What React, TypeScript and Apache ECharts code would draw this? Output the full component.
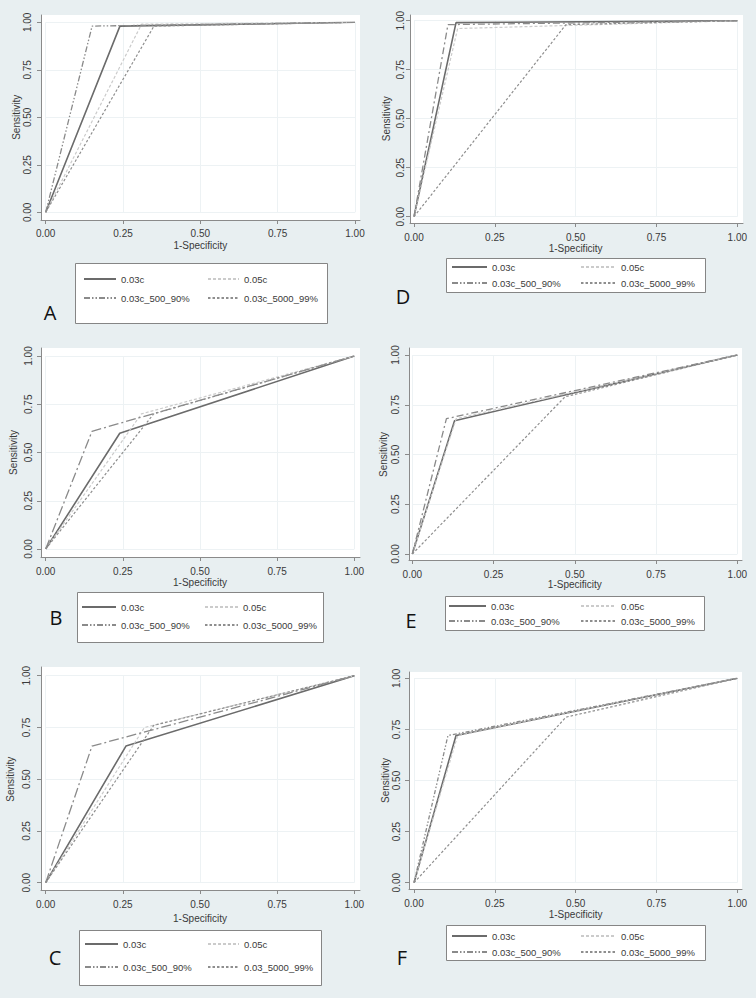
import React, { useEffect, useRef } from "react";
import * as echarts from "echarts";

// ---- data ----
const panelLetters = ["A", "D", "B", "E", "C", "F"];
const namesA = ["0.03c", "0.05c", "0.03c_500_90%", "0.03c_5000_99%"];
const namesB = ["0.03c", "0.05c", "0.03c_500_90%", "0.03c_5000_99%"];
const namesC = ["0.03c", "0.05c", "0.03c_500_90%", "0.03_5000_99%"];
const namesD = ["0.03c", "0.05c", "0.03c_500_90%", "0.03c_5000_99%"];
const namesE = ["0.03c", "0.05c", "0.03c_500_90%", "0.03c_5000_99%"];
const namesF = ["0.03c", "0.05c", "0.03c_500_90%", "0.03c_5000_99%"];

// knee point (1-specificity, sensitivity) of each curve: 0.03c, 0.05c, 500_90%, 5000_99%
const fprA = [0.24, 0.31, 0.15, 0.35];
const sensA = [0.98, 0.99, 0.98, 0.98];
const fprB = [0.24, 0.31, 0.15, 0.35];
const sensB = [0.6, 0.7, 0.61, 0.7];
const fprC = [0.26, 0.32, 0.15, 0.35];
const sensC = [0.66, 0.75, 0.66, 0.76];
const fprD = [0.13, 0.135, 0.105, 0.47];
const sensD = [0.99, 0.96, 0.98, 0.98];
const fprE = [0.13, 0.135, 0.105, 0.47];
const sensE = [0.67, 0.68, 0.68, 0.79];
const fprF = [0.13, 0.135, 0.105, 0.47];
const sensF = [0.72, 0.72, 0.72, 0.81];

const xAxisTitle = "1-Specificity";
const yAxisTitle = "Sensitivity";

// ---- layout / style ----
type Lay = {
  L: number; T: number; R: number; B: number;
  x0: number; x1: number; y1: number; y0: number;
  xNameGap: number; xLabMargin: number; yLabMargin: number; yNameGap: number;
  leg: [number, number, number, number]; rows: [number, number];
  lx: [number, number]; rx: [number, number]; letter: [number, number];
  dash2: number[];
};

const layouts: Lay[] = [
  { L: 41, T: 15, R: 360, B: 220, x0: 45.7, x1: 355, y1: 22.3, y0: 212.3, xNameGap: 20, xLabMargin: 8, yLabMargin: 9, yNameGap: 18,
    leg: [75, 263, 327, 323], rows: [279, 298], lx: [83, 115], rx: [207, 238], letter: [50, 312], dash2: [6, 2, 1.5, 2, 1.5, 2] },
  { L: 410, T: 15, R: 743, B: 223, x0: 414, x1: 737.3, y1: 20.7, y0: 216.7, xNameGap: 20, xLabMargin: 9, yLabMargin: 5, yNameGap: 19,
    leg: [446, 258, 705, 292], rows: [267, 283], lx: [451, 486], rx: [580, 615], letter: [403, 296], dash2: [7, 3, 2, 3] },
  { L: 41, T: 348, R: 360, B: 557, x0: 45.7, x1: 354.3, y1: 356, y0: 549, xNameGap: 20, xLabMargin: 9, yLabMargin: 8, yNameGap: 23,
    leg: [77, 592, 323, 642], rows: [607, 625], lx: [81, 115], rx: [204, 237], letter: [56, 617], dash2: [10, 3, 2, 3] },
  { L: 409, T: 348, R: 742, B: 560, x0: 412.3, x1: 737.3, y1: 355, y0: 554, xNameGap: 19, xLabMargin: 9, yLabMargin: 9, yNameGap: 21,
    leg: [445, 596, 704, 630], rows: [606, 621], lx: [448, 485], rx: [580, 615], letter: [411, 620], dash2: [7, 3, 2, 3] },
  { L: 41, T: 667, R: 360, B: 890, x0: 45.7, x1: 354.3, y1: 675.7, y0: 882.7, xNameGap: 23, xLabMargin: 9, yLabMargin: 10, yNameGap: 26,
    leg: [79, 930, 321, 985], rows: [944, 967], lx: [84, 117], rx: [207, 238], letter: [55, 957], dash2: [10, 3, 2, 3] },
  { L: 409, T: 672, R: 742, B: 889, x0: 414, x1: 737.3, y1: 678.3, y0: 882.7, xNameGap: 20, xLabMargin: 9, yLabMargin: 8, yNameGap: 18,
    leg: [446, 925, 705, 960], rows: [936, 952], lx: [451, 486], rx: [580, 615], letter: [402, 957], dash2: [4, 2, 1.5, 2, 1.5, 2] },
];

const panelNames = [namesA, namesD, namesB, namesE, namesC, namesF];
const panelFpr = [fprA, fprD, fprB, fprE, fprC, fprF];
const panelSens = [sensA, sensD, sensB, sensE, sensC, sensF];

const FONT = "'Liberation Sans', Arial, sans-serif";
const TXT = "#3a3a3a";
const AXIS = "#8a8a8a";
const GRIDLINE = "#edf2f4";
const BG = "#e8eff1";
const FS = 10;

function buildOption() {
  const grid: any[] = [];
  const xAxis: any[] = [];
  const yAxis: any[] = [];
  const series: any[] = [];
  const legend: any[] = [];
  const graphic: any[] = [];

  layouts.forEach((p, i) => {
    const names = panelNames[i];
    const fpr = panelFpr[i];
    const sens = panelSens[i];
    const gFull = 2 * i;
    const gData = 2 * i + 1;
    const xw = p.x1 - p.x0;
    const yh = p.y0 - p.y1;

    grid.push({ left: p.L, top: p.T, width: p.R - p.L, height: p.B - p.T, show: true, backgroundColor: "#ffffff", borderWidth: 0, containLabel: false });
    grid.push({ left: p.x0, top: p.y1, width: xw, height: yh, show: false, containLabel: false });

    // frame axes (axis lines spanning full plot region)
    xAxis.push({
      type: "value", gridIndex: gFull, position: "bottom",
      min: -(p.x0 - p.L) / xw, max: 1 + (p.R - p.x1) / xw,
      axisLine: { show: true, onZero: false, lineStyle: { color: AXIS, width: 1 } },
      axisTick: { show: false }, axisLabel: { show: false }, splitLine: { show: false },
    });
    yAxis.push({
      type: "value", gridIndex: gFull, position: "left",
      min: -(p.B - p.y0) / yh, max: 1 + (p.y1 - p.T) / yh,
      axisLine: { show: true, onZero: false, lineStyle: { color: AXIS, width: 1 } },
      axisTick: { show: false }, axisLabel: { show: false }, splitLine: { show: false },
    });
    // data axes (ticks, labels, gridlines)
    xAxis.push({
      type: "value", gridIndex: gData, position: "bottom", min: 0, max: 1, interval: 0.25,
      offset: p.B - p.y0,
      axisLine: { show: false, onZero: false },
      axisTick: { show: true, length: 4, lineStyle: { color: AXIS } },
      axisLabel: { show: true, margin: p.xLabMargin, fontSize: FS, color: TXT, fontFamily: FONT,
        formatter: (v: number) => v.toFixed(2) },
      splitLine: { show: true, lineStyle: { color: GRIDLINE, width: 1 } },
      name: xAxisTitle, nameLocation: "middle", nameGap: p.xNameGap,
      nameTextStyle: { fontSize: FS, color: TXT, fontFamily: FONT, verticalAlign: "top" },
    });
    yAxis.push({
      type: "value", gridIndex: gData, position: "left", min: 0, max: 1, interval: 0.25,
      offset: p.x0 - p.L,
      axisLine: { show: false, onZero: false },
      axisTick: { show: true, length: 4, lineStyle: { color: AXIS } },
      axisLabel: { show: true, margin: p.yLabMargin, rotate: 90, fontSize: FS, color: TXT, fontFamily: FONT,
        formatter: (v: number) => v.toFixed(2) },
      splitLine: { show: true, lineStyle: { color: GRIDLINE, width: 1 } },
      name: yAxisTitle, nameLocation: "middle", nameGap: p.yNameGap, nameRotate: 90,
      nameTextStyle: { fontSize: FS, color: TXT, fontFamily: FONT },
    });

    const styles = [
      { color: "#6b6b6b", width: 1.6, type: "solid" },
      { color: "#cbcbcb", width: 1.2, type: [3, 2] },
      { color: "#8a8a8a", width: 1.3, type: p.dash2 },
      { color: "#8e8e8e", width: 1.2, type: [2.5, 2] },
    ];
    const drawOrder = [1, 3, 2, 0];
    drawOrder.forEach((k) => {
      series.push({
        type: "line",
        name: names[k],
        xAxisIndex: gData,
        yAxisIndex: gData,
        data: [[0, 0], [fpr[k], sens[k]], [1, 1]],
        symbol: "none",
        silent: true,
        lineStyle: { color: styles[k].color, width: styles[k].width, type: styles[k].type },
        itemStyle: { color: styles[k].color },
        z: 3 + k,
      });
    });

    const ih = 10;
    const gap = p.rows[1] - p.rows[0] - ih;
    const legCommon = {
      orient: "vertical", top: p.rows[0] - ih / 2, itemHeight: ih, itemGap: gap, padding: 0,
      selectedMode: false,
      itemStyle: { opacity: 0, borderWidth: 0 },
      textStyle: { fontSize: 9.5, color: TXT, fontFamily: FONT, lineHeight: ih },
      z: 10,
    };
    legend.push({ ...legCommon, left: p.lx[0], itemWidth: p.lx[1] - p.lx[0], data: [names[0], names[2]] });
    legend.push({ ...legCommon, left: p.rx[0], itemWidth: p.rx[1] - p.rx[0], data: [names[1], names[3]] });

    graphic.push({
      type: "rect", z: 2, silent: true,
      shape: { x: p.leg[0] + 0.5, y: p.leg[1] + 0.5, width: p.leg[2] - p.leg[0], height: p.leg[3] - p.leg[1] },
      style: { fill: "#ffffff", stroke: "#858585", lineWidth: 1 },
    });
    graphic.push({
      type: "text", z: 3, silent: true, x: p.letter[0], y: p.letter[1],
      style: { text: panelLetters[i], fontSize: 20, fontFamily: "'Open Sans', 'Noto Sans', sans-serif", fill: "#111111",
        align: "center", verticalAlign: "middle" },
    });
  });

  return {
    animation: false,
    backgroundColor: BG,
    grid, xAxis, yAxis, series, legend, graphic,
  };
}

export default function App() {
  const ref = useRef<HTMLDivElement>(null);
  useEffect(() => {
    if (!ref.current) return;
    const chart = echarts.init(ref.current, undefined, { renderer: "svg" });
    chart.setOption(buildOption() as any);
    return () => chart.dispose();
  }, []);
  return <div ref={ref} style={{ position: "fixed", left: 0, top: 0, width: 756, height: 998 }} />;
}
